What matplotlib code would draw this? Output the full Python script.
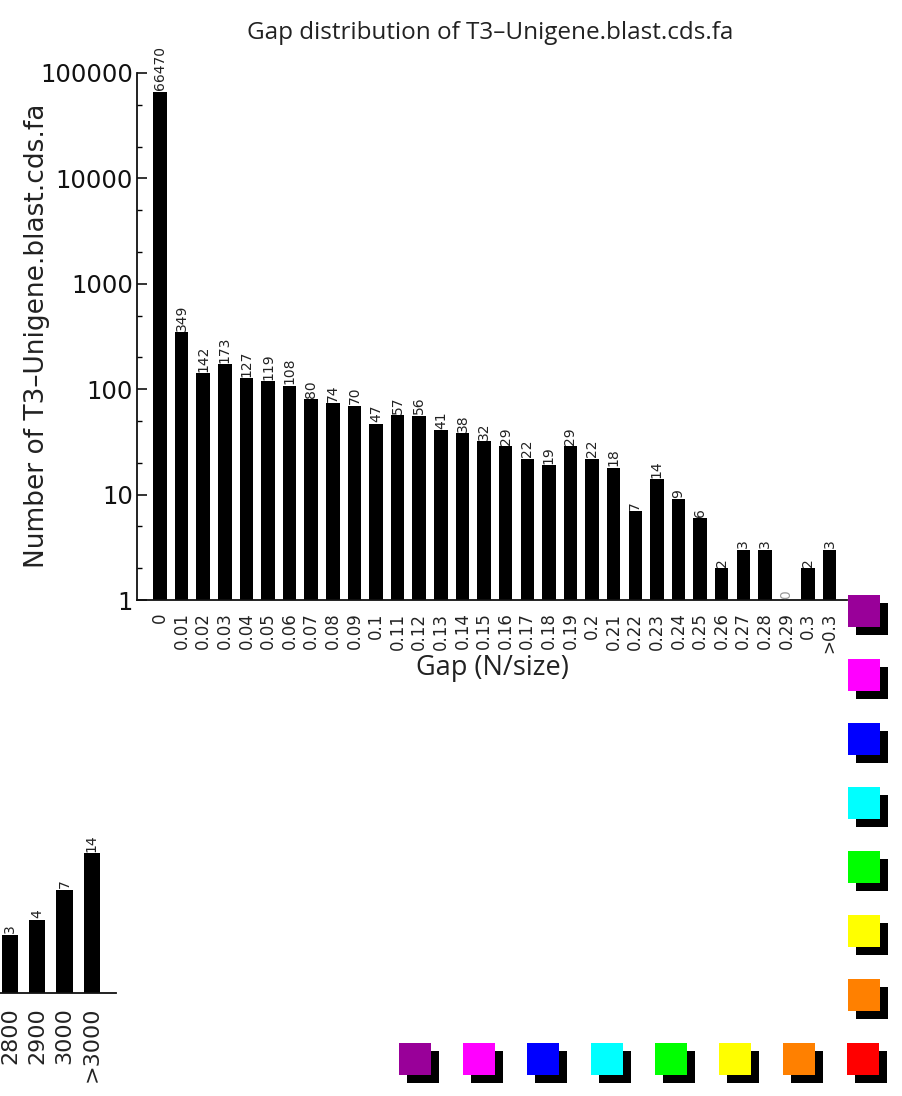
import numpy as np
import matplotlib
matplotlib.use("Agg")
import matplotlib.pyplot as plt
from matplotlib.patches import Rectangle
from matplotlib.ticker import (LogLocator, FuncFormatter, NullFormatter,
                               NullLocator)

# Gap distribution (fraction of N per sequence)
gap_labels = ["0", "0.01", "0.02", "0.03", "0.04", "0.05", "0.06", "0.07",
              "0.08", "0.09", "0.1", "0.11", "0.12", "0.13", "0.14", "0.15",
              "0.16", "0.17", "0.18", "0.19", "0.2", "0.21", "0.22", "0.23",
              "0.24", "0.25", "0.26", "0.27", "0.28", "0.29", "0.3", ">0.3"]
gap_counts = [66470, 349, 142, 173, 127, 119, 108, 80, 74, 70, 47, 57, 56,
              41, 38, 32, 29, 22, 19, 29, 22, 18, 7, 14, 9, 6, 2, 3, 3, 0,
              2, 3]

# Tail of the length distribution panel
len_labels = ["2800", "2900", "3000", ">3000"]
len_counts = [3, 4, 7, 14]

title_text = "Gap distribution of T3\u2013Unigene.blast.cds.fa"
ylabel_text = "Number of T3\u2013Unigene.blast.cds.fa"
xlabel_text = "Gap (N/size)"

swatch_colors = ["#990099", "#ff00ff", "#0000ff", "#00ffff", "#00ff00",
                 "#ffff00", "#ff8000", "#ff0000"]

W, H = 903, 1096
fig = plt.figure(figsize=(W / 100, H / 100), dpi=100)


def fx(px):
    return px / W


def fy(py):
    return 1 - py / H


def style_axes(ax):
    for s in ("top", "right"):
        ax.spines[s].set_visible(False)
    for s in ("left", "bottom"):
        ax.spines[s].set_linewidth(1.3)
        ax.spines[s].set_color("#111111")


# ---- main gap histogram ----
ax = fig.add_axes([fx(137), fy(600), fx(847) - fx(137), fy(73) - fy(600)])
style_axes(ax)
xpos = np.arange(len(gap_counts))
ax.bar(xpos, gap_counts, width=0.625, color="black")
ax.set_yscale("log")
ax.set_ylim(1, 1e5)
ax.set_xlim(-1.065, 31.8)
ax.yaxis.set_major_locator(LogLocator(base=10, numticks=10))
ax.yaxis.set_minor_locator(LogLocator(base=10, subs=(2.0, 5.0), numticks=10))
ax.yaxis.set_major_formatter(FuncFormatter(lambda v, _: f"{int(round(v))}"))
ax.yaxis.set_minor_formatter(NullFormatter())
ax.tick_params(axis="y", which="major", direction="in", length=7.2,
               width=1.2, labelsize=17.5, pad=3, colors="#111111")
ax.tick_params(axis="y", which="minor", direction="in", length=3.6,
               width=1.0)
ax.set_xticks(xpos)
ax.set_xticklabels(gap_labels, rotation=90, fontsize=12, color="#222222")
ax.tick_params(axis="x", length=0, pad=9)

for xi, v in zip(xpos, gap_counts):
    ax.text(xi, max(v, 1) * 1.03, str(v), rotation=90, ha="center",
            va="bottom", fontsize=10,
            color="#222222" if v > 0 else "#999999", clip_on=False)

fig.text(fx(490), fy(33), title_text, ha="center", va="center",
         fontsize=17.5, family="Open Sans", color="#222222")
fig.text(fx(37), fy(336), ylabel_text, ha="center", va="center",
         rotation=90, fontsize=19, color="#222222")
fig.text(fx(492), fy(668), xlabel_text, ha="center", va="center",
         fontsize=19.5, family="Open Sans", color="#222222")

# ---- tail of the neighbouring panel (cut at the left edge) ----
ax2 = fig.add_axes([fx(-60), fy(993), fx(116) - fx(-60), fy(749) - fy(993)])
style_axes(ax2)
ax2.spines["left"].set_visible(False)
lpos = np.arange(len(len_counts))
ax2.bar(lpos, len_counts, width=0.6, color="black")
ax2.set_yscale("log")
ax2.set_ylim(1, 100)
ax2.set_xlim((-60 - 10) / 27.3, (116 - 10) / 27.3)
ax2.yaxis.set_major_locator(NullLocator())
ax2.yaxis.set_minor_locator(NullLocator())
ax2.yaxis.set_major_formatter(NullFormatter())
ax2.yaxis.set_minor_formatter(NullFormatter())
ax2.set_xticks(lpos)
ax2.set_xticklabels(len_labels, rotation=90, fontsize=16, color="#222222")
ax2.tick_params(axis="x", length=0, pad=10)
for xi, v in zip(lpos, len_counts):
    ax2.text(xi, v * 1.03, str(v), rotation=90, ha="center", va="bottom",
             fontsize=10, color="#222222", clip_on=False)

# ---- colour swatches with drop shadows ----
size, off = 32, 8


def swatch(x0, y0, color):
    fig.add_artist(Rectangle((fx(x0 + off), fy(y0 + off + size)), fx(size),
                             size / H, facecolor="black", edgecolor="none"))
    fig.add_artist(Rectangle((fx(x0), fy(y0 + size)), fx(size), size / H,
                             facecolor=color, edgecolor="none"))


for i, c in enumerate(swatch_colors[:7]):
    swatch(848, 595 + 64 * i, c)
for i, c in enumerate(swatch_colors):
    swatch(399 + 64 * i, 1043, c)

fig.savefig("out.png", dpi=100)
